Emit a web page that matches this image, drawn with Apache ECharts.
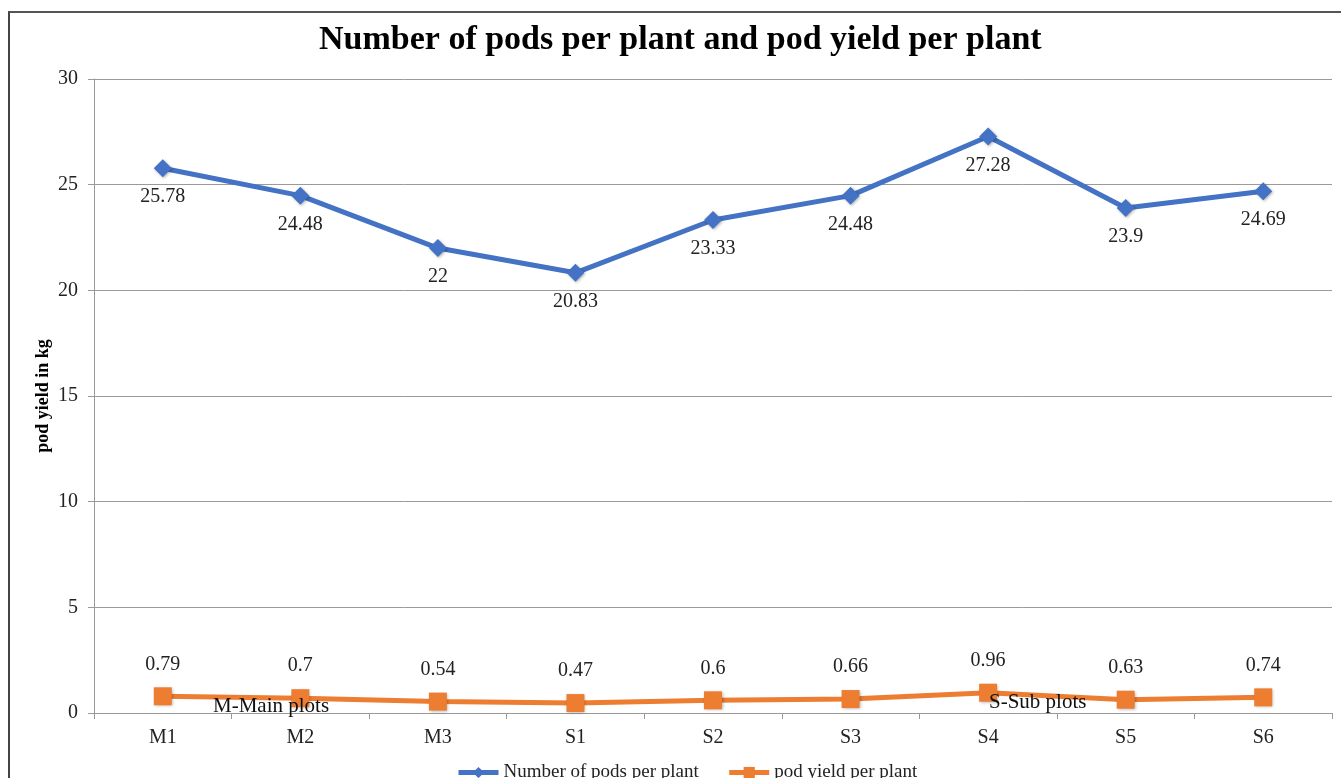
<!DOCTYPE html>
<html>
<head>
<meta charset="utf-8">
<script src="https://cdn.jsdelivr.net/npm/echarts@6/dist/echarts.min.js"></script>
<style>
  html, body { margin: 0; padding: 0; background: #fff; }
  #frame { position: absolute; left: 8px; top: 11px; width: 1340px; height: 780px; border-left: 2px solid #444; border-top: 2px solid #555; box-sizing: border-box; }
  #chart { position: absolute; left: 0; top: 0; width: 1341px; height: 778px; }
</style>
</head>
<body>
<div id="frame"></div>
<div id="chart"></div>
<script>
// Plot treatments: main plots (M) and sub plots (S)
const categories = ['M1', 'M2', 'M3', 'S1', 'S2', 'S3', 'S4', 'S5', 'S6'];
const podsPerPlant = [25.78, 24.48, 22, 20.83, 23.33, 24.48, 27.28, 23.9, 24.69];
const podYield = [0.79, 0.7, 0.54, 0.47, 0.6, 0.66, 0.96, 0.63, 0.74];
const yTicks = { min: 0, max: 30, interval: 5 };

const serif = 'Liberation Serif, Times New Roman, serif';
const chart = echarts.init(document.getElementById('chart'));

chart.setOption({
  animation: false,
  title: {
    text: 'Number of pods per plant and pod yield per plant',
    left: 314,
    top: 18,
    textStyle: { fontFamily: serif, fontSize: 34, fontWeight: 'bold', color: '#000' }
  },
  grid: { left: 94, right: 9, top: 79, bottom: 65, containLabel: false },
  legend: {
    bottom: -9,
    left: 451,
    itemWidth: 40,
    itemHeight: 14,
    itemGap: 28,
    lineStyle: { width: 5 },
    textStyle: { fontFamily: serif, fontSize: 19, color: '#222' },
    data: ['Number of pods per plant', 'pod yield per plant']
  },
  xAxis: {
    type: 'category',
    data: categories,
    boundaryGap: true,
    axisLine: { lineStyle: { color: '#999', width: 1 } },
    axisTick: { show: true, alignWithLabel: false, length: 6, lineStyle: { color: '#999' } },
    axisLabel: { fontFamily: serif, fontSize: 20, color: '#222', margin: 15 }
  },
  yAxis: {
    type: 'value',
    min: yTicks.min,
    max: yTicks.max,
    interval: yTicks.interval,
    name: 'pod yield in kg',
    nameLocation: 'middle',
    nameGap: 42,
    nameMoveOverlap: false,
    nameRotate: 90,
    nameTextStyle: { fontFamily: serif, fontSize: 18, fontWeight: 'bold', color: '#000' },
    axisLine: { show: true, lineStyle: { color: '#999' } },
    axisTick: { show: true, length: 6, lineStyle: { color: '#999' } },
    axisLabel: { fontFamily: serif, fontSize: 20, color: '#222', margin: 16 },
    splitLine: { lineStyle: { color: '#9a9a9a', width: 1 } }
  },
  series: [
    {
      name: 'Number of pods per plant',
      type: 'line',
      data: podsPerPlant,
      symbol: 'diamond',
      symbolSize: 18,
      lineStyle: { color: '#4472C4', width: 5 },
      itemStyle: { color: '#4472C4', shadowColor: 'rgba(0,0,0,0.3)', shadowBlur: 3, shadowOffsetX: 1, shadowOffsetY: 1 },
      label: {
        show: true,
        position: 'bottom',
        distance: 10,
        fontFamily: serif,
        fontSize: 20,
        color: '#222'
      },
      z: 3
    },
    {
      name: 'pod yield per plant',
      type: 'line',
      data: podYield,
      symbol: 'rect',
      symbolSize: 18,
      lineStyle: { color: '#ED7D31', width: 5 },
      itemStyle: { color: '#ED7D31', shadowColor: 'rgba(0,0,0,0.3)', shadowBlur: 3, shadowOffsetX: 1, shadowOffsetY: 1 },
      label: {
        show: true,
        position: 'top',
        distance: 13,
        fontFamily: serif,
        fontSize: 20,
        color: '#222'
      },
      z: 3
    }
  ],
  graphic: [
    {
      type: 'text',
      left: 213,
      top: 696,
      z: 10,
      style: { text: 'M-Main plots', fontFamily: serif, fontSize: 21, fill: '#111' }
    },
    {
      type: 'text',
      left: 989,
      top: 692,
      z: 10,
      style: { text: 'S-Sub plots', fontFamily: serif, fontSize: 21, fill: '#111' }
    }
  ]
});
</script>
</body>
</html>
